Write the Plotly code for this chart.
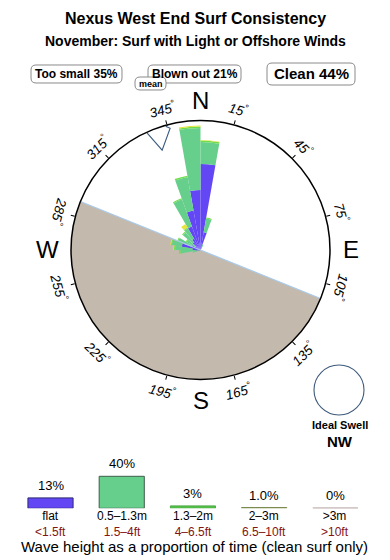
import math
import plotly.graph_objects as go

# ---------------- data ----------------
title_text = "Nexus West End Surf Consistency"
subtitle_text = "November: Surf with Light or Offshore Winds"
share_labels = ["Too small", "Blown out", "Clean"]
share_values = [35, 21, 44]

# rose: 10-degree direction bins (centre bearing) and stacked radial amounts
# (radial units: outer ring = 129.5)
bin_dirs = [355, 5, 15, 25, 345, 335, 325, 315, 305, 295, 285, 275, 265, 255]
flat_r   = [60, 86, 18, 3, 40, 25, 13, 10, 6, 10, 19, 8, 5, 2]
small_r  = [62, 22, 14, 3, 34, 29, 12, 13, 10, 14, 10, 17, 15, 6]
mid_r    = [1.5, 1.5, 1, 0, 1.5, 1, 1, 1, 1, 1, 1, 1.5, 1.5, 0]
big_r    = [1, 0.5, 0, 0, 0, 0, 4, 0, 0, 0, 0.8, 0.8, 0, 0]
ring_max = 129.5

mean_dir = 339
coast_start = 112      # shaded (land) half starts at this bearing and spans 180 deg
ideal_swell = "NW"

deg_ticks = [15, 45, 75, 105, 135, 165, 195, 225, 255, 285, 315, 345]
compass = {"N": 0, "E": 90, "S": 180, "W": 270}

leg_names = ["flat", "0.5\u20131.3m", "1.3\u20132m", "2\u20133m", ">3m"]
leg_feet = ["&lt;1.5ft", "1.5\u20134ft", "4\u20136.5ft", "6.5\u201310ft", "&gt;10ft"]
leg_values = [13, 40, 3, 1.0, 0]
leg_text = ["13%", "40%", "3%", "1.0%", "0%"]

# ---------------- styling ----------------
W, H = 390, 560
CX, CY, R = 200.5, 250.0, 129.5
FONT = "Liberation Sans, Arial, Helvetica, sans-serif"
c_flat, c_small, c_mid, c_big, c_huge = "#6347F5", "#66CF8C", "#6FDD4C", "#E4E43A", "#C8B4B4"
leg_fill = [c_flat, c_small, "#55C04A", "#9AA050", c_huge]
leg_line = ["#2A2A70", "#3E5E4A", "#4CAA44", "#7A8A50", "#C0AEAE"]


def X(px):
    return px / W


def Y(py):
    return 1 - py / H


def rrect(x0, y0, x1, y1, r):
    pts = [("M", [(x0 + r, y0)]), ("L", [(x1 - r, y0)]), ("Q", [(x1, y0), (x1, y0 + r)]),
           ("L", [(x1, y1 - r)]), ("Q", [(x1, y1), (x1 - r, y1)]), ("L", [(x0 + r, y1)]),
           ("Q", [(x0, y1), (x0, y1 - r)]), ("L", [(x0, y0 + r)]), ("Q", [(x0, y0), (x0 + r, y0)])]
    s = ""
    for cmd, ps in pts:
        s += cmd + " " + " ".join(f"{X(a):.5f},{Y(b):.5f}" for a, b in ps) + " "
    return s + "Z"


def txt(x, y, text, size, color="black", xref="paper", yref="paper", **kw):
    d = dict(x=x, y=y, xref=xref, yref=yref, text=text, showarrow=False,
             xanchor="center", yanchor="middle",
             font=dict(family=FONT, size=size, color=color))
    d.update(kw)
    return d


fig = go.Figure()

# shaded land half
fig.add_trace(go.Barpolar(r=[ring_max], theta=[coast_start + 90], width=[180],
                          marker=dict(color="#C4B9AD", line=dict(width=0)),
                          hoverinfo="skip"))
# coast line
fig.add_trace(go.Scatterpolar(r=[ring_max, 0, ring_max], theta=[coast_start + 180, coast_start + 180, coast_start],
                              mode="lines", line=dict(color="#A9CBEA", width=1.2), hoverinfo="skip"))

for vals, col in [(flat_r, c_flat), (small_r, c_small), (mid_r, c_mid), (big_r, c_big)]:
    fig.add_trace(go.Barpolar(r=vals, theta=bin_dirs, width=[10] * len(bin_dirs),
                              marker=dict(color=col, line=dict(width=0)), hoverinfo="skip"))

# mean direction arrow
fig.add_trace(go.Scatterpolar(
    r=[128.5, 107, 125.5, 128.2, 131],
    theta=[mean_dir - 3.5, mean_dir, mean_dir + 7, mean_dir + 5.5, mean_dir + 7.5],
    mode="lines", line=dict(color="#3A5A80", width=1.1), hoverinfo="skip"))

fig.update_layout(
    polar=dict(
        domain=dict(x=[X(CX - R), X(CX + R)], y=[Y(CY + R), Y(CY - R)]),
        bgcolor="white", barmode="stack", bargap=0, hole=0,
        radialaxis=dict(visible=False, range=[0, ring_max]),
        angularaxis=dict(rotation=90, direction="clockwise", showgrid=False,
                         showticklabels=False, ticks="outside", ticklen=4, tickwidth=1,
                         tickcolor="black", tickvals=deg_ticks,
                         showline=True, linecolor="black", linewidth=1.5),
    ),
)

# legend bar chart
fig.add_trace(go.Bar(x=list(range(5)), y=leg_values, width=0.634,
                     marker=dict(color=leg_fill, line=dict(color=leg_line, width=1)),
                     xaxis="x", yaxis="y", hoverinfo="skip"))

fig.update_layout(
    xaxis=dict(domain=[0.0382, 0.9513], range=[-0.5, 4.5], visible=False, fixedrange=True),
    yaxis=dict(domain=[Y(508.3), Y(508.3) + 40 / H], range=[0, 50], visible=False, fixedrange=True),
)

shapes = []
ann = []

# zero-height legend bar outline
for i, v in enumerate(leg_values):
    if v == 0:
        shapes.append(dict(type="line", xref="x", yref="y", x0=i - 0.317, x1=i + 0.317, y0=0, y1=0,
                           line=dict(color=leg_line[i], width=1.5)))

for i in range(5):
    ann.append(txt(i, leg_values[i], leg_text[i], 13, xref="x", yref="y", yanchor="bottom", yshift=3))
    ann.append(txt(i, Y(524),
                   f"{leg_names[i]}<br><span style='color:#841414'>{leg_feet[i]}</span>",
                   12, xref="x", borderpad=0))

ann.append(txt(X(194), Y(546.5), "Wave height as a proportion of time (clean surf only)", 15))

# titles
ann.append(txt(X(195), Y(18), "<b>" + title_text + "</b>", 16))
ann.append(txt(X(195), Y(41), "<b>" + subtitle_text + "</b>", 14))

# share boxes
boxes = [(31, 65, 122, 83, 12), (148, 65, 241, 83, 12), (267, 63, 355, 85, 15)]
for (x0, y0, x1, y1, fs), lab, val in zip(boxes, share_labels, share_values):
    shapes.append(dict(type="path", xref="paper", yref="paper", path=rrect(x0, y0, x1, y1, 5),
                       line=dict(color="#8A8A8A", width=1), fillcolor="rgba(0,0,0,0)"))
    ann.append(txt(X((x0 + x1) / 2), Y((y0 + y1) / 2), f"<b>{lab} {val}%</b>", fs))
# mean box
shapes.append(dict(type="path", xref="paper", yref="paper", path=rrect(135, 77, 166, 90, 5),
                   line=dict(color="#8A8A8A", width=1), fillcolor="white"))
ann.append(txt(X(150.5), Y(83.5), "<b>mean</b>", 9))

# compass letters
for lab, b in compass.items():
    rr = 153 if lab == "W" else 150
    ann.append(txt(X(CX + rr * math.sin(math.radians(b))), Y(CY - rr * math.cos(math.radians(b))), lab, 24))

# degree labels, rotated along the ring
for b in deg_ticks:
    if 110 < b < 290:
        rot = b - 180
    elif b <= 105:
        rot = b
    else:
        rot = b - 360
    rr = 146
    ann.append(txt(X(CX + rr * math.sin(math.radians(b))), Y(CY - rr * math.cos(math.radians(b))),
                   f"<i>{b}<sup>\u00b0</sup></i>", 13.5, textangle=rot))

# ideal swell
ICX, ICY, IR = 339, 390, 25
shapes.append(dict(type="circle", xref="paper", yref="paper",
                   x0=X(ICX - IR), x1=X(ICX + IR), y0=Y(ICY + IR), y1=Y(ICY - IR),
                   line=dict(color="#3D5A7A", width=1.1), fillcolor="white"))
ann.append(txt(X(340), Y(425), "<b>Ideal Swell</b>", 11))
ann.append(txt(X(340), Y(441), "<b>" + ideal_swell + "</b>", 15))

fig.update_layout(width=W, height=H, margin=dict(l=0, r=0, t=0, b=0), autosize=False,
                  paper_bgcolor="white", plot_bgcolor="white", showlegend=False,
                  shapes=shapes, annotations=ann, font=dict(family=FONT))

fig.write_html("out.html", config={"displayModeBar": False})
